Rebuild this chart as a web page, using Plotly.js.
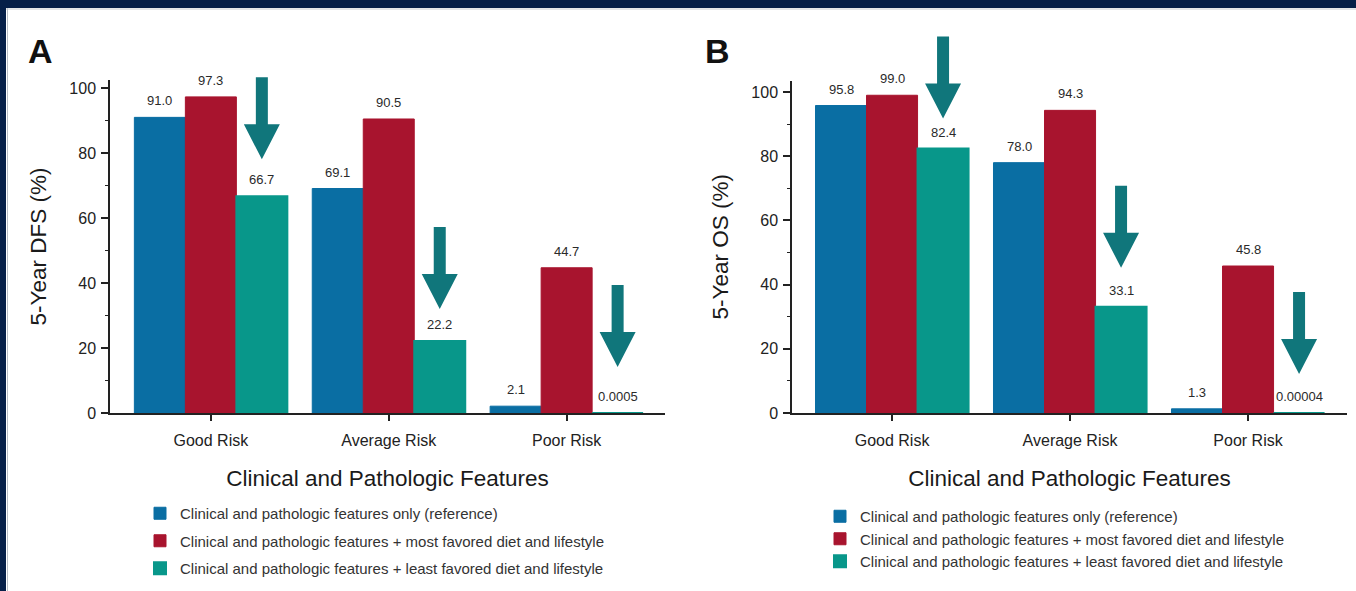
<!DOCTYPE html>
<html>
<head>
<meta charset="utf-8">
<script src="https://cdn.plot.ly/plotly-3.0.1.min.js"></script>
<style>
  html, body { margin: 0; padding: 0; background: #ffffff; }
  #chart { width: 1356px; height: 591px; }
</style>
</head>
<body>
<div id="chart"></div>
<script>
// ---------- data ----------
const categories = ['Good Risk', 'Average Risk', 'Poor Risk'];
const seriesNames = [
  'Clinical and pathologic features only (reference)',
  'Clinical and pathologic features + most favored diet and lifestyle',
  'Clinical and pathologic features + least favored diet and lifestyle'
];
// Panel A: 5-year DFS (%)
const dfsReference = [91.0, 69.1, 2.1];
const dfsMostFavored = [97.3, 90.5, 44.7];
const dfsLeastFavored = [66.7, 22.2, 0.0005];
// Panel B: 5-year OS (%)
const osReference = [95.8, 78.0, 1.3];
const osMostFavored = [99.0, 94.3, 45.8];
const osLeastFavored = [82.4, 33.1, 0.00004];
const yTickVals = [0, 20, 40, 60, 80, 100];

// ---------- style ----------
const colors = ['#0a6ea3', '#a8142e', '#08978a'];
const lineWidths = [1, 1, 2];
const arrowColor = '#10767b';
const navy = '#061f48';
const BARGAP = 0.14;
const barW = (1 - BARGAP) / 3;
const offsets = [-barW, 0, barW];
const yMaxA = 102.5, yMaxB = 103.6;

function fmt(v) {
  if (v >= 0.1) return v.toFixed(1);
  const d = -Math.floor(Math.log10(v));
  return v.toFixed(d);
}

const panels = [
  { key: 'A', series: [dfsReference, dfsMostFavored, dfsLeastFavored], xa: 'x', ya: 'y', yMax: yMaxA, legend: 'legend', tipOffsets: [37, 32, 46] },
  { key: 'B', series: [osReference, osMostFavored, osLeastFavored], xa: 'x2', ya: 'y2', yMax: yMaxB, legend: 'legend2', tipOffsets: [30, 39, 39] }
];

const traces = [];
const annotations = [];
const shapes = [];

panels.forEach(function (p) {
  p.series.forEach(function (vals, si) {
    traces.push({
      type: 'bar',
      x: categories,
      y: vals,
      name: seriesNames[si],
      xaxis: p.xa,
      yaxis: p.ya,
      legend: p.legend,
      legendgroup: p.key + si,
      marker: { color: colors[si], line: { color: colors[si], width: lineWidths[si] } },
      hoverinfo: 'x+y+name'
    });
    vals.forEach(function (v, ci) {
      annotations.push({
        xref: p.xa, yref: p.ya,
        x: ci + offsets[si], y: v,
        text: fmt(v),
        showarrow: false,
        yanchor: 'bottom',
        yshift: 7,
        font: { family: 'Liberation Sans, Arial, sans-serif', size: 13, color: '#2a2a2a' }
      });
    });
  });
  // down arrows above the "least favored" bars (y anchored in axis-domain units so they are not clipped)
  const least = p.series[2];
  least.forEach(function (v, ci) {
    const d = p.tipOffsets[ci];
    const path = 'M0,' + d +
      ' L-18,' + (d + 35) + ' L-6,' + (d + 35) + ' L-6,' + (d + 82) +
      ' L6,' + (d + 82) + ' L6,' + (d + 35) + ' L18,' + (d + 35) + ' Z';
    shapes.push({
      type: 'path',
      xref: p.xa, yref: p.ya + ' domain',
      xsizemode: 'pixel', ysizemode: 'pixel',
      xanchor: ci + offsets[2], yanchor: v / p.yMax,
      path: path,
      fillcolor: arrowColor,
      line: { width: 0 }
    });
  });
});

// frame (dark band at top and left)
shapes.push({ type: 'rect', xref: 'paper', yref: 'paper', x0: 0, x1: 1, y0: 1 - 8 / 591, y1: 1.01, fillcolor: navy, line: { width: 0 }, layer: 'above' });
shapes.push({ type: 'rect', xref: 'paper', yref: 'paper', x0: -0.01, x1: 6 / 1356, y0: -0.01, y1: 1.01, fillcolor: navy, line: { width: 0 }, layer: 'above' });
shapes.push({ type: 'line', xref: 'paper', yref: 'paper', x0: 7.5 / 1356, x1: 7.5 / 1356, y0: 0, y1: 1 - 8 / 591, line: { color: '#b8bcc4', width: 1 } });
shapes.push({ type: 'line', xref: 'paper', yref: 'paper', x0: 6 / 1356, x1: 1, y0: 1 - 9 / 591, y1: 1 - 9 / 591, line: { color: '#c8ccd2', width: 1 } });

// panel letters
annotations.push({ xref: 'paper', yref: 'paper', x: 26 / 1356, y: 1 - 30 / 591, xanchor: 'left', yanchor: 'top', showarrow: false,
  text: '<b>A</b>', font: { family: 'Liberation Sans, Arial, sans-serif', size: 34, color: '#111' } });
annotations.push({ xref: 'paper', yref: 'paper', x: 703 / 1356, y: 1 - 30 / 591, xanchor: 'left', yanchor: 'top', showarrow: false,
  text: '<b>B</b>', font: { family: 'Liberation Sans, Arial, sans-serif', size: 34, color: '#111' } });

const tickFont = { family: 'Liberation Sans, Arial, sans-serif', size: 16, color: '#222' };
const titleFont = { family: 'Liberation Sans, Arial, sans-serif', size: 22.5, color: '#1a1a1a' };

function xAxis(domain, range) {
  return {
    domain: domain, range: range, type: 'category',
    showline: true, linecolor: '#222', linewidth: 1.5,
    ticks: 'outside', ticklen: 6, tickwidth: 1.5, tickcolor: '#222',
    tickfont: tickFont, ticklabelstandoff: 6,
    showgrid: false, zeroline: false,
    title: { text: 'Clinical and Pathologic Features', font: titleFont, standoff: 22 }
  };
}
function yAxis(domain, range, anchor, title) {
  return {
    domain: domain, range: range, anchor: anchor,
    showline: true, linecolor: '#222', linewidth: 1.5,
    ticks: 'outside', ticklen: 7, tickwidth: 1.5, tickcolor: '#222',
    tickvals: yTickVals, tickfont: tickFont, ticklabelstandoff: 2,
    minor: { dtick: 10, ticks: 'outside', ticklen: 3, tickwidth: 1.2, tickcolor: '#222', showgrid: false },
    showgrid: false, zeroline: false,
    title: { text: title, font: titleFont, standoff: 16 }
  };
}

const legendFont = { family: 'Liberation Sans, Arial, sans-serif', size: 15, color: '#333' };

const layout = {
  width: 1356, height: 591,
  margin: { l: 0, r: 0, t: 0, b: 0 },
  paper_bgcolor: '#ffffff', plot_bgcolor: '#ffffff',
  barmode: 'group', bargap: BARGAP, bargroupgap: 0,
  xaxis: Object.assign(xAxis([110 / 1356, 665 / 1356], [-0.567, 2.553]), { anchor: 'y' }),
  yaxis: yAxis([178 / 591, 511 / 591], [0, yMaxA], 'x', '5-Year DFS (%)'),
  xaxis2: Object.assign(xAxis([792 / 1356, 1347 / 1356], [-0.562, 2.556]), { anchor: 'y2' }),
  yaxis2: yAxis([178 / 591, 510.5 / 591], [0, yMaxB], 'x2', '5-Year OS (%)'),
  legend: { x: 140 / 1356, y: 1 - 497 / 591, xanchor: 'left', yanchor: 'top', font: legendFont, bgcolor: 'rgba(0,0,0,0)', tracegroupgap: 5 },
  legend2: { x: 820 / 1356, y: 1 - 500 / 591, xanchor: 'left', yanchor: 'top', font: legendFont, bgcolor: 'rgba(0,0,0,0)', tracegroupgap: 0 },
  showlegend: true,
  annotations: annotations,
  shapes: shapes,
  font: { family: 'Liberation Sans, Arial, sans-serif' }
};

Plotly.newPlot('chart', traces, layout, { displayModeBar: false, responsive: false });
</script>
</body>
</html>
